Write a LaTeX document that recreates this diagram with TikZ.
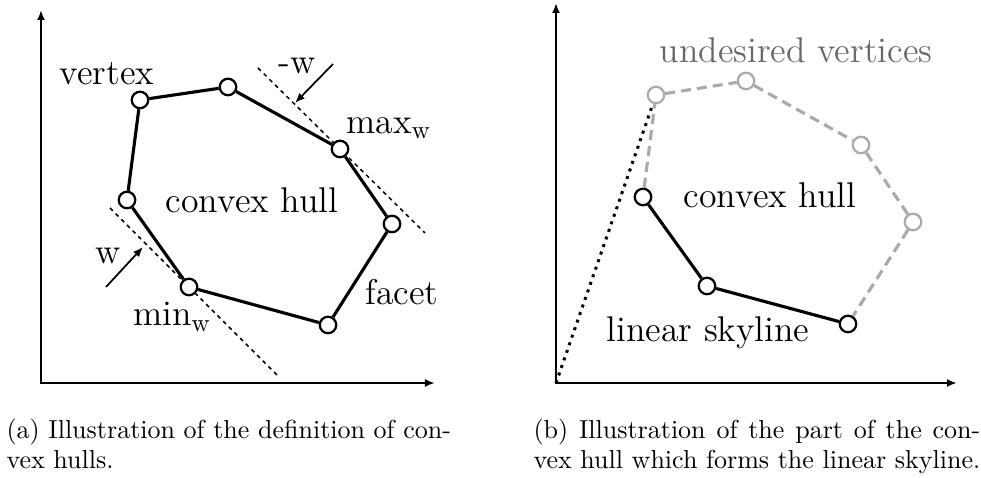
\documentclass[tikz,border=0pt]{standalone}
\usepackage{fontspec}
\usepackage{tikz}
\usetikzlibrary{arrows.meta}
\definecolor{hullgray}{RGB}{170,170,170}
\definecolor{textgray}{RGB}{105,105,105}
\tikzset{
    myvertex/.style={circle,draw=black,fill=white,line width=0.9pt,inner sep=0pt,minimum size=6.6pt},
    mygrayvertex/.style={myvertex,draw=hullgray},
    myedge/.style={line width=1.25pt,draw=black},
    mygrayedge/.style={line width=1.25pt,draw=hullgray,dash pattern=on 4pt off 2.4pt},
    myaxis/.style={line width=0.8pt,draw=black,{Latex[length=4pt,width=3.2pt]}-{Latex[length=4pt,width=3.2pt]}},
    mysupport/.style={line width=0.6pt,draw=black,dash pattern=on 1.6pt off 1.6pt},
    myarrow/.style={line width=0.7pt,-{Latex[length=4pt,width=3.2pt]}},
    mylabel/.style={font=\fontsize{14.3}{17}\selectfont,inner sep=0pt},
    mycaption/.style={font=\fontsize{10.4}{12}\selectfont,align=left,inner sep=0pt,anchor=north west}
}
% stretch the first caption line to the width of the second one
\newcommand{\fullline}[2]{\setbox0\hbox{#2}\makebox[\wd0][s]{#1}\\#2}

\begin{document}
\begin{tikzpicture}[x=1.4056cm,y=1.4056cm]
  \useasboundingbox (0,0) rectangle (9.81,4.78);

  %---------------- (a) convex hull ----------------
  % axes
            \coordinate (O1) at (0.41,0.95);
            \coordinate (Y1) at (0.41,4.68);
            \coordinate (X1) at (4.35,0.95);
            \draw[myaxis] (Y1) -- (O1) -- (X1);

  % supporting lines for w and -w
            \coordinate (U1) at (2.58,4.10);
            \coordinate (U2) at (4.25,2.45);
            \coordinate (L1) at (1.10,2.70);
            \coordinate (L2) at (2.77,1.03);
            \draw[mysupport] (U1) -- (U2);
            \draw[mysupport] (L1) -- (L2);

  % vertices
            \node[myvertex] (v1) at (1.40,3.78) {};
            \node[myvertex] (v2) at (2.28,3.91) {};
            \node[myvertex] (v3) at (3.40,3.29) {};
            \node[myvertex] (v4) at (3.92,2.54) {};
            \node[myvertex] (v5) at (3.28,1.53) {};
            \node[myvertex] (v6) at (1.89,1.91) {};
            \node[myvertex] (v7) at (1.27,2.78) {};
            \foreach \a/\b in {v1/v2,v2/v3,v3/v4,v4/v5,v5/v6,v6/v7,v7/v1}{
                \draw[myedge] (\a) -- (\b);
            }

  % directions
            \coordinate (MW1) at (3.33,4.14);
            \coordinate (MW2) at (2.95,3.75);
            \coordinate (W1) at (1.06,1.91);
            \coordinate (W2) at (1.43,2.31);
            \draw[myarrow] (MW1) -- (MW2);
            \draw[myarrow] (W1) -- (W2);

  % labels
            \node[mylabel] (vertexlabel) at (1.07,4.04) {vertex};
            \node[mylabel] (mwlabel) at (2.97,4.12) {-w};
            \node[mylabel] (maxlabel) at (3.89,3.50) {max$_{\mathrm{w}}$};
            \node[mylabel] (hulllabel) at (2.52,2.78) {convex hull};
            \node[mylabel] (facetlabel) at (4.02,1.86) {facet};
            \node[mylabel] (wlabel) at (1.08,2.22) {w};
            \node[mylabel] (minlabel) at (1.72,1.61) {min$_{\mathrm{w}}$};

            \node[mycaption] (capa) at (0.06,0.59)
                {(a) Illustration of the definition of con-\\vex hulls.};

  %---------------- (b) linear skyline ----------------
            \coordinate (O2) at (5.56,0.95);
            \coordinate (Y2) at (5.56,4.75);
            \coordinate (X2) at (9.57,0.95);
            \draw[myaxis] (Y2) -- (O2) -- (X2);

  % undesired part in gray
            \node[mygrayvertex] (g1) at (6.56,3.83) {};
            \node[mygrayvertex] (g2) at (7.46,3.97) {};
            \node[mygrayvertex] (g3) at (8.61,3.33) {};
            \node[mygrayvertex] (g4) at (9.13,2.56) {};
  % skyline part
            \node[myvertex] (b1) at (6.43,2.81) {};
            \node[myvertex] (b2) at (7.07,1.92) {};
            \node[myvertex] (b3) at (8.48,1.54) {};

            \draw[mygrayedge] (b1) -- (g1) -- (g2) -- (g3) -- (g4) -- (b3);
            \draw[myedge] (b1) -- (b2) -- (b3);
            \draw[line width=1.2pt,dotted] (O2) -- (g1);

            \node[mylabel,text=textgray] (undesiredlabel) at (7.96,4.28) {undesired vertices};
            \node[mylabel] (hulllabelb) at (7.70,2.83) {convex hull};
            \node[mylabel] (skylinelabel) at (7.08,1.45) {linear skyline};

            \node[mycaption] (capb) at (5.33,0.59)
                {\fullline{(b) Illustration of the part of the con-}{vex hull which forms the linear skyline.}};

        \end{tikzpicture}
\end{document}
